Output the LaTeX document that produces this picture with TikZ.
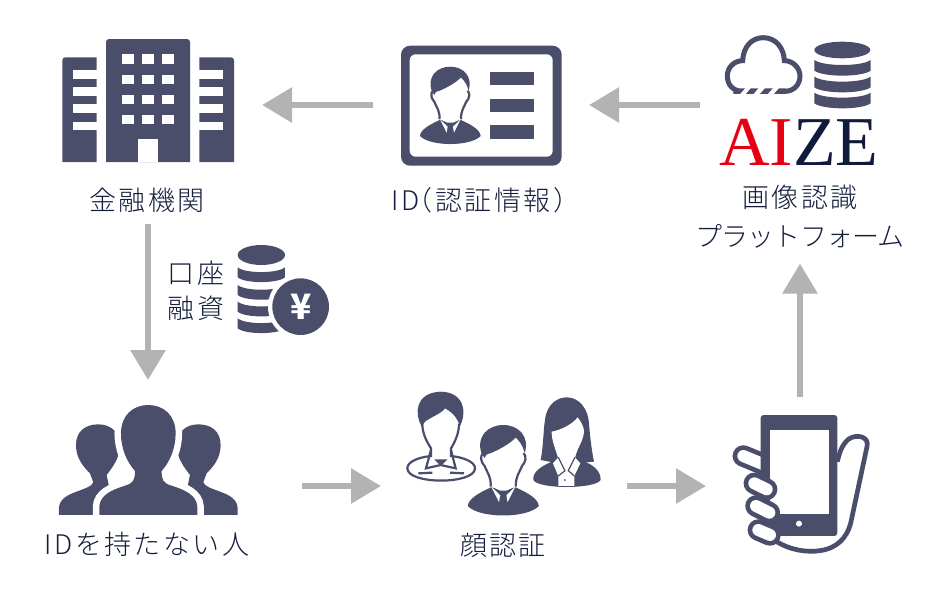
\documentclass[tikz,border=0pt]{standalone}
\usepackage{fontspec}
\setmainfont{Noto Sans CJK JP}
\newfontfamily\labelfont[LetterSpace=9]{Noto Sans CJK JP Light}
\newfontfamily\kanafont[LetterSpace=-3]{Noto Sans CJK JP Light}
\newfontfamily\logofont{Liberation Serif}
\usetikzlibrary{arrows.meta}

\definecolor{iconblue}{HTML}{4A4E6B}
\definecolor{textblue}{HTML}{141E3C}
\definecolor{flowgray}{HTML}{B3B3B3}
\definecolor{logored}{HTML}{E60012}
\definecolor{logoblue}{HTML}{101A3A}

\tikzset{
	iconbox/.style={inner sep=0pt,outer sep=0pt},
	namelabel/.style={inner sep=0pt,outer sep=0pt,text=textblue,font=\labelfont\fontsize{27}{39}\selectfont,align=center},
	flow/.style={draw=flowgray,line width=6pt,-{Triangle[length=30pt,width=34pt]}},
	darkfill/.style={fill=iconblue},
	darkline/.style={draw=iconblue,line width=2.2pt},
	gapfill/.style={fill=white}
}

\newcommand{\suitman}[3]{
	\begin{scope}[shift={(#1,#2)},scale=#3]
		\fill[darkfill] (-56,72) .. controls (-70,30) and (-40,0) .. (0,0) .. controls (40,0) and (68,30) .. (55,72) -- (51,60) .. controls (48,52) and (42,42) .. (32,32) .. controls (15,50) and (-15,65) .. (-32,72) .. controls (-42,74) and (-48,78) .. (-48,85) -- cycle;
		\draw[darkline] (-52,72) .. controls (-60,80) and (-58,95) .. (-48,105) .. controls (-40,125) and (-32,130) .. (-32,158);
		\draw[darkline] (52,72) .. controls (60,80) and (58,95) .. (48,105) .. controls (40,125) and (32,130) .. (32,158);
		\fill[darkfill] (-91,208) .. controls (-90,190) and (-65,175) .. (-32,160) -- (32,160) .. controls (65,175) and (90,190) .. (91,208) .. controls (60,240) and (-60,240) .. (-91,208) -- cycle;
		\fill[gapfill] (-31,158) -- (-8,180) -- (-11,198) -- cycle;
		\fill[gapfill] (31,158) -- (8,180) -- (11,198) -- cycle;
		\fill[gapfill] (-31,158) -- (31,158) -- (8,168) -- (-8,168) -- cycle;
	\end{scope}
}

\begin{document}
\begin{tikzpicture}[x=1pt,y=-1pt]
	\useasboundingbox (0,0) rectangle (950,600);

	% bank
	\fill[darkfill] (106,162) [rounded corners=3pt] -- (106,39) -- (190,39) [sharp corners] -- (190,162) -- cycle;
	\fill[darkfill] (62.3,162) [rounded corners=3pt] -- (62.3,57.3) [sharp corners] -- (96.7,57.3) -- (96.7,162) -- cycle;
	\fill[darkfill] (199.3,162) -- (199.3,57.3) [rounded corners=3pt] -- (234,57.3) [sharp corners] -- (234,162) -- cycle;
	\foreach \wx in {121.7,141.7,162}
		\foreach \wy in {54.3,74.5,94.5,114.5}
			\fill[gapfill] (\wx,\wy) rectangle +(11.8,9.6);
	\fill[gapfill] (138.3,162) rectangle (158,139);
	\foreach \sy in {70,87,104.3,121.7} {
		\fill[gapfill] (73,\sy) rectangle (96.7,\sy+8.5);
		\fill[gapfill] (199.3,\sy) rectangle (223.3,\sy+8.5);
	}

	% id card
	\fill[darkfill,rounded corners=9pt] (401,45.7) rectangle (561.7,165.7);
	\fill[gapfill,rounded corners=6pt] (409.7,54.3) rectangle (552.7,156.7);
	\foreach \by in {71.7,98.5,125.3}
		\fill[darkfill] (490,\by) rectangle (534.3,\by+13.7);
	\suitman{450.3}{66.7}{0.3333}

	% cloud and database
	\begin{scope}[shift={(690,20)},scale=0.3333]
		\draw[draw=iconblue,line width=5pt] (158,214) .. controls (130,214) and (112,195) .. (112,168) .. controls (112,140) and (135,122) .. (158,122) .. controls (160,80) and (185,53) .. (220,53) .. controls (258,53) and (282,85) .. (283,122) .. controls (310,122) and (330,145) .. (330,168) .. controls (330,195) and (310,214) .. (285,214);
		\fill[darkfill] (168,222) -- (182,205) -- (205,205) -- (190,222) -- cycle;
		\fill[darkfill] (210,222) -- (225,205) -- (248,205) -- (233,222) -- cycle;
		\fill[darkfill] (252,222) -- (267,205) -- (288,205) -- (288,222) -- cycle;
		\fill[gapfill] (148,223) -- (168,223) -- (168,205) -- (148,205) -- cycle;
		\fill[darkfill] (130,222) -- (150,222) -- (165,205) -- (130,205) -- cycle;
		\fill[darkfill] (457,90) ellipse [x radius=84,y radius=25];
		\foreach \dy in {120,170,218}
			\fill[darkfill] (373,\dy) .. controls (400,\dy+20) and (515,\dy+20) .. (542,\dy) -- (542,\dy+32) .. controls (515,\dy+52) and (400,\dy+52) .. (373,\dy+32) -- cycle;
	\end{scope}

	% coins
	\begin{scope}[shift={(150,235)},scale=0.3333]
		\fill[darkfill] (334,60) ellipse [x radius=71,y radius=30];
		\foreach \cy in {97,150,200,250}
			\fill[darkfill] (263,\cy) .. controls (285,\cy+19) and (383,\cy+19) .. (405,\cy) -- (405,\cy+30) .. controls (383,\cy+49) and (285,\cy+49) .. (263,\cy+30) -- cycle;
		\fill[gapfill] (452,215) circle [radius=98];
		\fill[darkfill] (452,215) circle [radius=85];
	\end{scope}
	\node[iconbox,text=white,font=\fontsize{35}{35}\selectfont\bfseries] (yen) at (300.7,306.7) {¥};

	% people
	\begin{scope}[shift={(148.3,395)},scale=0.3333]
		\fill[darkfill] (-268,360) -- (-268,340) .. controls (-268,315) and (-245,300) .. (-215,290) .. controls (-190,280) and (-170,275) .. (-165,262) -- (-175,235) .. controls (-195,215) and (-217,190) .. (-217,150) .. controls (-217,110) and (-190,88) .. (-150,88) .. controls (-110,88) and (-85,115) .. (-85,150) .. controls (-85,190) and (-110,220) .. (-125,240) -- (-100,360) -- cycle;
		\fill[darkfill] (268,360) -- (268,340) .. controls (268,315) and (245,300) .. (215,290) .. controls (190,280) and (170,275) .. (165,262) -- (175,235) .. controls (195,215) and (217,190) .. (217,150) .. controls (217,110) and (190,88) .. (150,88) .. controls (110,88) and (85,115) .. (85,150) .. controls (85,190) and (110,220) .. (125,240) -- (100,360) -- cycle;
		\fill[darkfill,preaction={draw=white,line width=13pt}] (-147,360) -- (-147,335) .. controls (-145,300) and (-110,285) .. (-70,272) .. controls (-45,265) and (-40,255) .. (-40,228) .. controls (-65,200) and (-82,160) .. (-82,115) .. controls (-82,60) and (-45,30) .. (0,30) .. controls (45,30) and (82,60) .. (82,115) .. controls (82,160) and (65,200) .. (40,228) .. controls (40,255) and (45,265) .. (70,272) .. controls (110,285) and (145,300) .. (147,335) -- (147,360) -- cycle;
	\end{scope}

	% faces
	\begin{scope}[shift={(395,380)},scale=0.3333]
		\fill[darkfill] (80,140) .. controls (58,100) and (60,40) .. (135,35) .. controls (210,35) and (216,100) .. (194,140) .. controls (190,120) and (178,100) .. (150,85) .. controls (140,100) and (110,110) .. (90,125) -- cycle;
		\draw[darkline] (82,132) .. controls (82,160) and (95,185) .. (108,205) -- (108,228) .. controls (70,232) and (37,245) .. (37,265) .. controls (37,314) and (240,314) .. (240,265) .. controls (240,245) and (205,232) .. (168,228) -- (168,205) .. controls (180,185) and (192,160) .. (192,132);
		\draw[darkline] (108,210) -- (93,265) -- (137,255) -- (182,265) -- (168,210);
		\fill[darkfill] (118,238) -- (158,238) -- (137,258) -- cycle;
		\draw[darkline] (70,280) -- (112,278);
		\draw[darkline] (165,278) -- (207,280);
	\end{scope}
	\suitman{503.3}{425}{0.39}
	\begin{scope}[shift={(395,380)},scale=0.3333]
		\fill[darkfill] (437,240) .. controls (445,200) and (445,150) .. (450,120) .. controls (455,70) and (490,52) .. (515,52) .. controls (555,52) and (580,90) .. (582,130) .. controls (585,170) and (590,210) .. (597,245) -- (540,250) -- (490,250) -- cycle;
		\fill[darkfill] (415,300) .. controls (412,275) and (440,255) .. (490,238) -- (550,238) .. controls (590,250) and (618,270) .. (617,300) .. controls (600,328) and (430,328) .. (415,300) -- cycle;
		\fill[gapfill] (470,155) .. controls (500,150) and (535,130) .. (548,112) .. controls (558,125) and (567,140) .. (567,155) .. controls (565,185) and (545,205) .. (540,235) -- (490,235) .. controls (480,205) and (470,180) .. (470,155) -- cycle;
		\fill[gapfill] (474,250) -- (490,232) -- (540,232) -- (556,250) -- (538,288) -- (538,318) -- (490,318) -- (490,288) -- cycle;
		\draw[draw=iconblue,line width=1.2pt] (490,232) -- (510,272) -- (490,288);
		\draw[draw=iconblue,line width=1.2pt] (540,232) -- (520,272) -- (538,288);
		\fill[darkfill] (510,300) circle [radius=3];
	\end{scope}

	% phone and hand
	\begin{scope}[shift={(720,400)},scale=0.3333]
		\draw[draw=iconblue,line width=21.5pt,line cap=round] (70,168) -- (135,195);
		\draw[draw=white,line width=12pt,line cap=round] (70,168) -- (135,195);
		\fill[darkfill,rounded corners=3pt] (122,45) rectangle (352,408);
		\fill[gapfill] (150,90) rectangle (327,343);
		\fill[gapfill] (237,371) circle [radius=9];
		\foreach \fa/\fb/\fc/\fd in {103/250/140/268,108/318/148/338,115/390/150/405} {
			\draw[draw=iconblue,line width=21.5pt,line cap=round] (\fa,\fb) -- (\fc,\fd);
			\draw[draw=white,line width=12pt,line cap=round] (\fa,\fb) -- (\fc,\fd);
		}
		\draw[draw=iconblue,line width=4.7pt] (170,425) .. controls (210,450) and (260,458) .. (300,452) .. controls (350,445) and (380,415) .. (392,370) -- (441,140) .. controls (449,110) and (410,100) .. (385,118) .. controls (365,135) and (358,160) .. (352,185);
	\end{scope}

	% logo text
	\node[iconbox,font=\logofont\fontsize{70}{70}\selectfont] (logo) at (799,142) {\textcolor{logored}{AI}\textcolor{logoblue}{ZE}};

	% anchors of the icons
	\node[iconbox,minimum width=172pt,minimum height=116pt] (bank) at (148,105) {};
	\node[iconbox,minimum width=160pt,minimum height=120pt] (card) at (481,105) {};
	\node[iconbox,minimum width=150pt,minimum height=122pt] (aize) at (800,105) {};
	\node[iconbox,minimum width=178pt,minimum height=100pt] (people) at (148,486) {};
	\node[iconbox,minimum width=196pt,minimum height=90pt] (faces) at (504,486) {};
	\node[iconbox,minimum width=136pt,minimum height=140pt] (phone) at (800,486) {};

	% labels
	\node[namelabel] (bankname) at (147,200) {金融機関};
	\node[namelabel] (cardname) at (486,200) {ID\kern-14pt（認証情報）};
	\node[namelabel] (platformname) at (800,217) {画像認識\\{\kanafont プラットフォーム}};
	\node[namelabel] (coinname) at (196,291) {口座\\[-4pt]融資};
	\node[namelabel] (peoplename) at (147,544) {IDを持たない人};
	\node[namelabel] (facesname) at (503,545) {顔認証};

	% arrows
	\draw[flow,shorten <=25pt,shorten >=28pt] (aize.west) -- (card.east);
	\draw[flow,shorten <=28pt,shorten >=28pt] (card.west) -- (bank.east);
	\draw[flow,shorten <=12pt,shorten >=56pt] (bankname.south -| bank.south) -- (people.north);
	\draw[flow,shorten <=65pt,shorten >=25pt] (people.east) -- (faces.west);
	\draw[flow,shorten <=25pt,shorten >=26pt] (faces.east) -- (phone.west);
	\draw[flow,shorten <=19pt,shorten >=15pt] (phone.north) -- (platformname.south);
\end{tikzpicture}
\end{document}
